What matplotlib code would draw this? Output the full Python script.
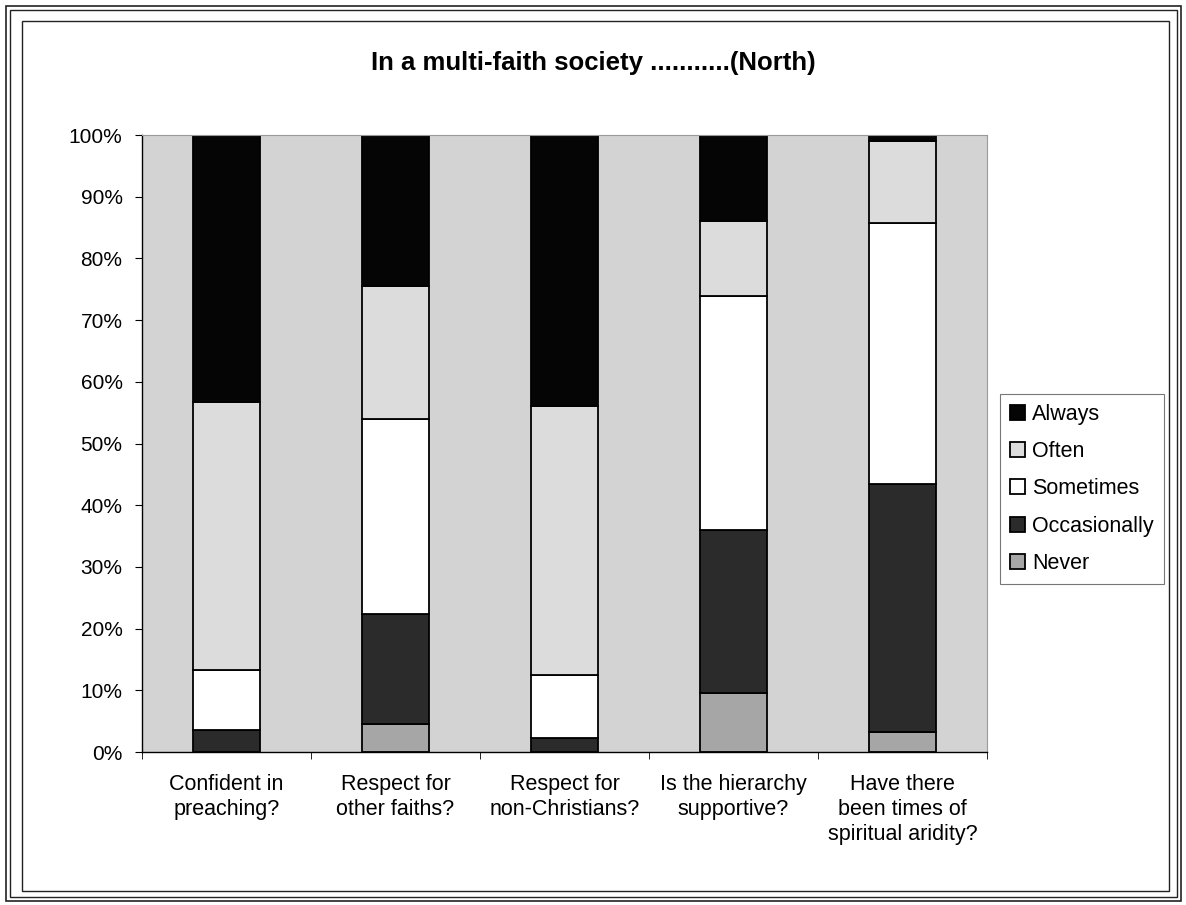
import matplotlib
matplotlib.use("Agg")
import matplotlib.pyplot as plt
from matplotlib.patches import Rectangle
import numpy as np

categories = ["Confident in\npreaching?", "Respect for\nother faiths?", "Respect for\nnon-Christians?",
              "Is the hierarchy\nsupportive?", "Have there\nbeen times of\nspiritual aridity?"]
series_names = ["Never", "Occasionally", "Sometimes", "Often", "Always"]
never = [0.0, 4.6, 0.0, 9.5, 3.2]
occasionally = [3.5, 17.8, 2.2, 26.4, 40.3]
sometimes = [9.8, 31.5, 10.3, 38.0, 42.3]
often = [43.5, 21.6, 43.5, 12.1, 13.3]
always = [43.2, 24.5, 44.0, 14.0, 0.9]
yticks = [0, 10, 20, 30, 40, 50, 60, 70, 80, 90, 100]
ytick_labels = [f"{v}%" for v in yticks]
title = "In a multi-faith society ...........(North)"

colors = {"Never": "#a6a6a6", "Occasionally": "#2b2b2b", "Sometimes": "#ffffff",
          "Often": "#dcdcdc", "Always": "#050505"}

plt.rcParams['font.family'] = ['Liberation Sans', 'DejaVu Sans']

fig = plt.figure(figsize=(11.86, 9.05), dpi=100)
W, H = 1186, 905

# frame borders
def frect(x0, y0, x1, y1, lw):
    fig.patches.append(Rectangle((x0 / W, 1 - y1 / H), (x1 - x0) / W, (y1 - y0) / H,
                                 transform=fig.transFigure, fill=False, edgecolor="#222222", linewidth=lw))
frect(6, 6, 1181, 901, 1.2)
frect(10, 10, 1177, 897, 1.0)
frect(22, 21, 1169, 891, 1.0)

ax = fig.add_axes([142 / W, 1 - 752 / H, (987 - 142) / W, (752 - 135) / H])
ax.set_facecolor("#d3d3d3")

x = np.arange(len(categories))
data = {"Never": never, "Occasionally": occasionally, "Sometimes": sometimes,
        "Often": often, "Always": always}
bottom = np.zeros(len(categories))
handles = {}
for name in series_names:
    vals = np.array(data[name])
    b = ax.bar(x, vals, bottom=bottom, width=0.40, color=colors[name], edgecolor="black",
               linewidth=1.3, label=name)
    handles[name] = b
    bottom += vals

ax.set_xlim(-0.5, len(categories) - 0.5)
ax.set_ylim(0, 100)
ax.set_yticks(yticks)
ax.set_yticklabels(ytick_labels, fontsize=15)
ax.set_xticks(x)
ax.set_xticklabels(categories, fontsize=15.5, linespacing=1.25)
ax.tick_params(axis='x', length=0, pad=16)
ax.set_xticks(np.arange(-0.5, len(categories), 1.0), minor=True)
ax.tick_params(axis='x', which='minor', length=5, direction='out')
ax.tick_params(axis='y', length=5, direction='out', pad=9)
for s in ["top", "right"]:
    ax.spines[s].set_color("#9a9a9a")
    ax.spines[s].set_linewidth(0.8)
for s in ["left", "bottom"]:
    ax.spines[s].set_color("black")
    ax.spines[s].set_linewidth(1.0)

fig.text(593 / W, 1 - 63 / H, title, ha="center", va="center", fontsize=18.5, fontweight="bold")

order = ["Always", "Often", "Sometimes", "Occasionally", "Never"]
leg = fig.legend([handles[n] for n in order], order, loc="upper left",
                 bbox_to_anchor=(1000 / W, 1 - 394 / H), fontsize=15.5, frameon=True,
                 fancybox=False, edgecolor="#555555", handlelength=0.7, handleheight=0.7,
                 handletextpad=0.35, labelspacing=0.76, borderpad=0.45, borderaxespad=0)
leg.get_frame().set_linewidth(0.8)

fig.savefig("out.png", dpi=100, facecolor="white")
